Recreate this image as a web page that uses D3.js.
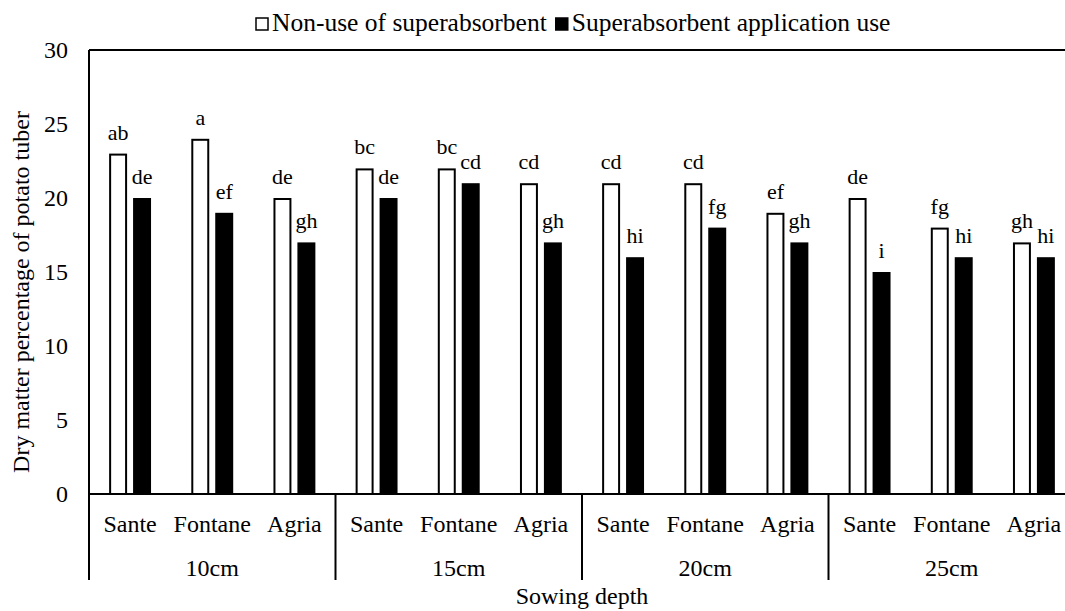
<!DOCTYPE html>
<html>
<head>
<meta charset="utf-8">
<script src="https://cdn.jsdelivr.net/npm/d3@7"></script>
<style>
    body { margin: 0; background: #fff; }
</style>
</head>
<body>
<div id="chart"></div>
<script>
(function() {

    // Data
    var depths = ["10cm", "15cm", "20cm", "25cm"];
    var cultivars = ["Sante", "Fontane", "Agria"];
    var seriesNames = ["Non-use of superabsorbent", "Superabsorbent application use"];

    // values in depth order, cultivar order inside each depth
    var nonUseValues = [23, 24, 20, 22, 22, 21, 21, 21, 19, 20, 18, 17];
    var useValues = [20, 19, 17, 20, 21, 17, 16, 18, 17, 15, 16, 16];
    var nonUseLetters = ["ab", "a", "de", "bc", "bc", "cd", "cd", "cd", "ef", "de", "fg", "gh"];
    var useLetters = ["de", "ef", "gh", "de", "cd", "gh", "hi", "fg", "gh", "i", "hi", "hi"];

    var yTicks = [0, 5, 10, 15, 20, 25, 30];

    var width = 1065;
    var height = 611;
    var left = 89, top = 50, bottom = 494;
    var groupWidth = 246.5;
    var right = left + groupWidth * depths.length;
    var serif = "'Liberation Serif', serif";

    var svg = d3.select("#chart")
        .append("svg")
        .attr("width", width)
        .attr("height", height)
        .attr("font-family", serif);

    // build rows from the arrays
    var rows = [];
    depths.forEach(function(dep, i) {
        cultivars.forEach(function(cv, j) {
            var k = i * cultivars.length + j;
            rows.push({
                key: dep + "|" + cv, depth: dep, cultivar: cv,
                values: [
                    { s: 0, v: nonUseValues[k], letter: nonUseLetters[k] },
                    { s: 1, v: useValues[k], letter: useLetters[k] }
                ]
            });
        });
    });

    // Scales
    var y = d3.scaleLinear().domain([0, 30]).range([bottom, top]);

    var x0 = d3.scaleBand()
        .domain(rows.map(d => d.key))
        .range([left, right]);

    var bw = x0.bandwidth();
    var x1 = d3.scaleBand()
        .domain([0, 1])
        .range([bw * 0.245, bw * 0.755])
        .paddingInner(0.25);

    var xGroup = d3.scaleBand()
        .domain(depths)
        .range([left, right]);

    // Y axis labels (no tick marks, no domain line)
    var yAxis = d3.axisLeft(y)
        .tickValues(yTicks)
        .tickSize(0)
        .tickPadding(21);

    svg.append("g")
        .attr("transform", "translate(" + left + ",0)")
        .call(yAxis)
        .attr("font-family", serif)
        .call(g => g.select(".domain").remove())
        .selectAll("text")
        .style("font-family", serif)
        .style("font-size", "24px")
        .attr("fill", "#000");

    // Bars
    var groups = svg.append("g")
        .selectAll("g")
        .data(rows)
        .enter().append("g")
        .attr("transform", d => "translate(" + x0(d.key) + ",0)");

    groups.selectAll("rect")
        .data(d => d.values)
        .enter().append("rect")
        .attr("x", d => x1(d.s) + (d.s === 0 ? 1 : 0))
        .attr("y", d => y(d.v) + (d.s === 0 ? 1 : 0))
        .attr("width", d => x1.bandwidth() - (d.s === 0 ? 2 : 0))
        .attr("height", d => y(0) - y(d.v) - (d.s === 0 ? 1 : 0))
        .attr("fill", d => d.s === 0 ? "#fff" : "#000")
        .attr("stroke", "#000")
        .attr("stroke-width", d => d.s === 0 ? 2 : 0);

    // Letters above the bars
    groups.selectAll("text.letter")
        .data(d => d.values)
        .enter().append("text")
        .attr("class", "letter")
        .attr("x", d => x1(d.s) + x1.bandwidth() / 2)
        .attr("y", d => y(d.v) - 14)
        .attr("text-anchor", "middle")
        .style("font-family", serif)
        .style("font-size", "22px")
        .text(d => d.letter);

    // Frame: left axis, top line, bottom axis
    svg.append("line")
        .attr("x1", left).attr("x2", left)
        .attr("y1", top).attr("y2", 580)
        .attr("stroke", "#000").attr("stroke-width", 2);

    svg.append("line")
        .attr("x1", left).attr("x2", right)
        .attr("y1", top).attr("y2", top)
        .attr("stroke", "#000").attr("stroke-width", 2);

    svg.append("line")
        .attr("x1", left).attr("x2", right)
        .attr("y1", bottom).attr("y2", bottom)
        .attr("stroke", "#000").attr("stroke-width", 2);

    // group dividers below the axis
    svg.append("g")
        .selectAll("line")
        .data(depths.slice(1).concat(["end"]))
        .enter().append("line")
        .attr("x1", d => d === "end" ? right : xGroup(d))
        .attr("x2", d => d === "end" ? right : xGroup(d))
        .attr("y1", bottom)
        .attr("y2", 580)
        .attr("stroke", "#000")
        .attr("stroke-width", 2);

    // cultivar labels
    svg.append("g")
        .selectAll("text")
        .data(rows)
        .enter().append("text")
        .attr("x", d => x0(d.key) + bw / 2)
        .attr("y", 532)
        .attr("text-anchor", "middle")
        .style("font-family", serif)
        .style("font-size", "24px")
        .text(d => d.cultivar);

    // depth labels
    svg.append("g")
        .selectAll("text")
        .data(depths)
        .enter().append("text")
        .attr("x", d => xGroup(d) + xGroup.bandwidth() / 2)
        .attr("y", 576)
        .attr("text-anchor", "middle")
        .style("font-family", serif)
        .style("font-size", "24px")
        .text(d => d);

    // axis titles
    svg.append("text")
        .attr("x", (left + right) / 2)
        .attr("y", 604)
        .attr("text-anchor", "middle")
        .style("font-family", serif)
        .style("font-size", "24px")
        .text("Sowing depth");

    svg.append("text")
        .attr("transform", "translate(29,292) rotate(-90)")
        .attr("text-anchor", "middle")
        .style("font-family", serif)
        .style("font-size", "24px")
        .text("Dry matter percentage of potato tuber");

    // Legend
    var legend = svg.append("g");
    var lx = 255;
    seriesNames.forEach(function(name, i) {
        legend.append("rect")
            .attr("x", lx + 1)
            .attr("y", 18)
            .attr("width", 12)
            .attr("height", 12)
            .attr("fill", i === 0 ? "#fff" : "#000")
            .attr("stroke", "#000")
            .attr("stroke-width", 1.5);
        var t = legend.append("text")
            .attr("x", lx + 17)
            .attr("y", 31)
            .style("font-family", serif)
            .style("font-size", "25.5px")
            .text(name);
        lx = lx + 17 + t.node().getComputedTextLength() + 8;
    });

})();
</script>
</body>
</html>
